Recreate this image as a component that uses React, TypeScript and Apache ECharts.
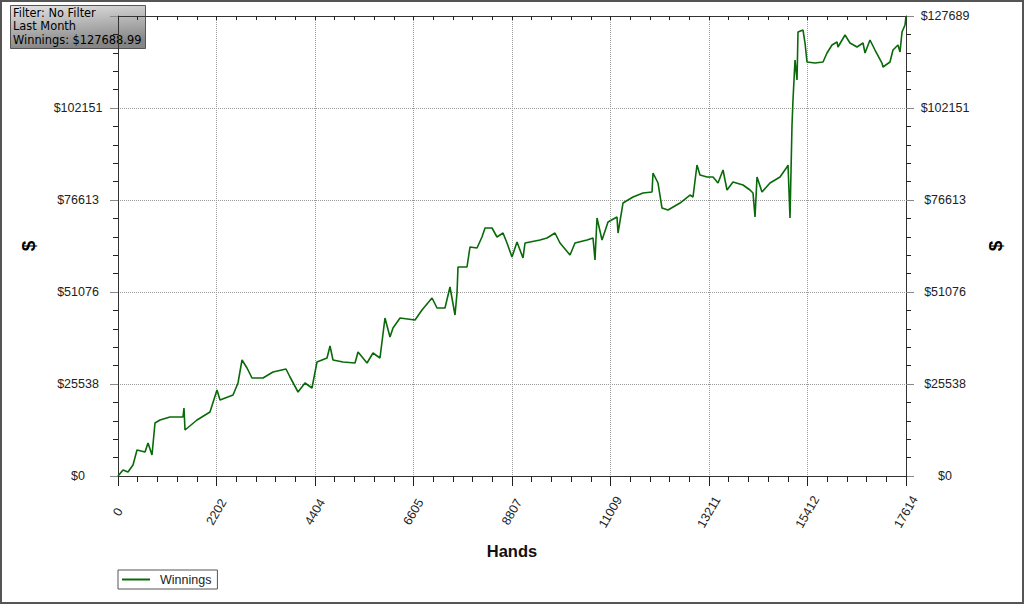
import React, { useEffect, useRef } from "react";
import * as echarts from "echarts";

const hands = [
  0, 112, 224, 335, 425, 604, 671, 760, 827, 939,
  1162, 1453, 1475, 1498, 1766, 2056, 2213, 2280, 2571, 2682,
  2772, 2884, 2995, 3241, 3465, 3755, 3845, 4024, 4180, 4336,
  4448, 4672, 4739, 4806, 5029, 5298, 5365, 5566, 5700, 5856,
  5968, 6080, 6147, 6304, 6639, 6795, 7019, 7131, 7309, 7421,
  7533, 7578, 7600, 7801, 7868, 8025, 8136, 8204, 8360, 8472,
  8606, 8695, 8807, 8919, 9053, 9098, 9433, 9589, 9768, 9880,
  10104, 10215, 10484, 10618, 10662, 10707, 10819, 10953, 11154, 11177,
  11288, 11512, 11735, 11937, 11959, 12071, 12160, 12294, 12562, 12786,
  12853, 12942, 13009, 13166, 13300, 13412, 13524, 13613, 13747, 13971,
  14127, 14194, 14239, 14284, 14395, 14574, 14798, 14954, 14977, 15021,
  15066, 15088, 15133, 15178, 15200, 15312, 15357, 15401, 15580, 15759,
  15848, 15960, 16072, 16094, 16251, 16362, 16519, 16653, 16698, 16809,
  16921, 17077, 17100, 17256, 17323, 17435, 17480, 17525, 17592, 17614,
];

const winnings = [
  0, 1666, 1110, 3053, 7217, 6662, 9160, 5829, 14712, 15544,
  16377, 16377, 18875, 12769, 15544, 17765, 23872, 21096, 22484, 25815,
  32199, 29979, 27203, 27203, 28868, 29701, 27481, 23317, 25815, 24427,
  31644, 32754, 36085, 32199, 31644, 31367, 34420, 31367, 34142, 32754,
  43858, 38584, 41082, 43858, 43302, 46078, 49409, 46633, 46633, 52463,
  44690, 50797, 58014, 58014, 63566, 63289, 66342, 68841, 68841, 66342,
  67452, 64676, 60790, 64954, 60512, 64676, 65509, 66064, 67452, 64676,
  61345, 64676, 65509, 66064, 59957, 71616, 65509, 70506, 71894, 67452,
  75779, 77445, 78555, 78833, 84107, 81331, 74392, 73837, 75779, 78000,
  77445, 86328, 83552, 82997, 82997, 81331, 84939, 79388, 81609, 80776,
  79388, 78555, 71894, 82997, 78833, 81331, 82997, 85773, 86328, 71616,
  97431, 104370, 115473, 109922, 123246, 123801, 120193, 114919, 114641, 114919,
  117417, 119638, 120471, 119083, 122414, 120193, 119083, 120193, 117417, 121025,
  118249, 114641, 113530, 114919, 118249, 119638, 117695, 123246, 125190, 127689,
];

const xMax = 17614;
const xInterval = 2201.75;
const yMax = 127689;
const yInterval = 25537.8;

const infoLines = ["Filter: No Filter", "Last Month", "Winnings: $127688.99"];
const seriesName = "Winnings";

const LABEL_FONT = "'Liberation Sans', Arial, sans-serif";

export default function App() {
  const ref = useRef<HTMLDivElement>(null);

  useEffect(() => {
    document.body.style.margin = "0";
    if (!ref.current) return;
    const chart = echarts.init(ref.current, undefined, { renderer: "svg" });

    const baseX = { type: "value", gridIndex: 0, min: 0, max: xMax, interval: xInterval };
    const baseY = { type: "value", gridIndex: 0, min: 0, max: yMax, interval: yInterval };

    const option: any = {
      animation: false,
      backgroundColor: "#ffffff",
      grid: { left: 118, top: 16, width: 788, height: 460, containLabel: false },
      xAxis: [
        {
          ...baseX,
          position: "bottom",
          axisLine: { show: true, onZero: false, lineStyle: { color: "#333", width: 1 } },
          axisTick: { show: true, length: 10, lineStyle: { color: "#222" } },
          minorTick: { show: true, splitNumber: 5, length: 6, lineStyle: { color: "#222" } },
          splitLine: { show: true, lineStyle: { type: "dotted", color: "#9a9a9a" } },
          axisLabel: {
            rotate: 60,
            align: "center",
            verticalAlign: "middle",
            margin: 36,
            fontFamily: LABEL_FONT,
            fontSize: 12.5,
            color: "#222",
            formatter: (v: number) => String(Math.round(v)),
          },
          name: "Hands",
          nameLocation: "middle",
          nameGap: 66,
          nameTextStyle: { fontFamily: LABEL_FONT, fontSize: 16.5, fontWeight: "bold", color: "#111" },
        },
        {
          ...baseX,
          position: "top",
          axisLine: { show: true, onZero: false, lineStyle: { color: "#333", width: 1 } },
          axisTick: { show: true, inside: true, length: 4, lineStyle: { color: "#222" } },
          minorTick: { show: true, splitNumber: 5, length: 4, lineStyle: { color: "#222" } },
          splitLine: { show: false },
          axisLabel: { show: false },
        },
      ],
      yAxis: [
        {
          ...baseY,
          position: "left",
          axisLine: { show: true, onZero: false, lineStyle: { color: "#333", width: 1 } },
          axisTick: { show: true, length: 8, lineStyle: { color: "#888" } },
          minorTick: { show: true, splitNumber: 5, length: 5, lineStyle: { color: "#222" } },
          splitLine: { show: true, lineStyle: { type: "dotted", color: "#9a9a9a" } },
          axisLabel: {
            align: "center",
            margin: 40,
            showMaxLabel: false,
            fontFamily: LABEL_FONT,
            fontSize: 12.5,
            color: "#222",
            formatter: (v: number) => "$" + Math.round(v),
          },
          name: "$",
          nameLocation: "middle",
          nameGap: 80,
          nameRotate: 90,
          nameTextStyle: { fontFamily: LABEL_FONT, fontSize: 19, fontWeight: "bold", color: "#000" },
        },
        {
          ...baseY,
          position: "right",
          axisLine: { show: true, onZero: false, lineStyle: { color: "#333", width: 1 } },
          axisTick: { show: true, length: 8, lineStyle: { color: "#888" } },
          minorTick: { show: true, splitNumber: 5, length: 5, lineStyle: { color: "#222" } },
          splitLine: { show: false },
          axisLabel: {
            align: "center",
            margin: 39,
            fontFamily: LABEL_FONT,
            fontSize: 12.5,
            color: "#222",
            formatter: (v: number) => "$" + Math.round(v),
          },
          name: "$",
          nameLocation: "middle",
          nameGap: 80,
          nameRotate: 90,
          nameTextStyle: { fontFamily: LABEL_FONT, fontSize: 19, fontWeight: "bold", color: "#000" },
        },
      ],
      legend: {
        left: 118,
        top: 570,
        orient: "horizontal",
        borderColor: "#555",
        borderWidth: 1,
        borderRadius: 0,
        padding: [3, 6, 3, 4],
        icon: "rect",
        itemWidth: 28,
        itemHeight: 2,
        textStyle: { fontFamily: LABEL_FONT, fontSize: 12.5, color: "#222", padding: [0, 0, 0, 5] },
        data: [seriesName],
      },
      series: [
        {
          name: seriesName,
          type: "line",
          xAxisIndex: 0,
          yAxisIndex: 0,
          data: hands.map((h, i) => [h, winnings[i]]),
          symbol: "none",
          showSymbol: false,
          lineStyle: { color: "#0a6a0a", width: 1.6 },
          itemStyle: { color: "#0a6a0a" },
        },
      ],
      graphic: [
        {
          type: "rect",
          silent: true,
          z: 100,
          shape: { x: 1, y: 1, width: 1022, height: 602 },
          style: { fill: "none", stroke: "#555", lineWidth: 2 },
        },
        {
          type: "group",
          z: 100,
          silent: true,
          children: [
            {
              type: "rect",
              shape: { x: 10.5, y: 5.5, width: 135, height: 43 },
              style: {
                fill: new echarts.graphic.LinearGradient(0, 0, 0.25, 1, [
                  { offset: 0, color: "#e4e4e4" },
                  { offset: 1, color: "#858585" },
                ]),
                stroke: "#555",
                lineWidth: 1,
              },
            },
            {
              type: "text",
              x: 13,
              y: 6,
              style: {
                text: infoLines.join("\n"),
                fontFamily: "'DejaVu Sans', Verdana, sans-serif",
                fontSize: 11.4,
                lineHeight: 13.5,
                fill: "#000",
              },
            },
          ],
        },
      ],
    };

    chart.setOption(option);
    return () => chart.dispose();
  }, []);

  return <div ref={ref} style={{ width: 1024, height: 604 }} />;
}
